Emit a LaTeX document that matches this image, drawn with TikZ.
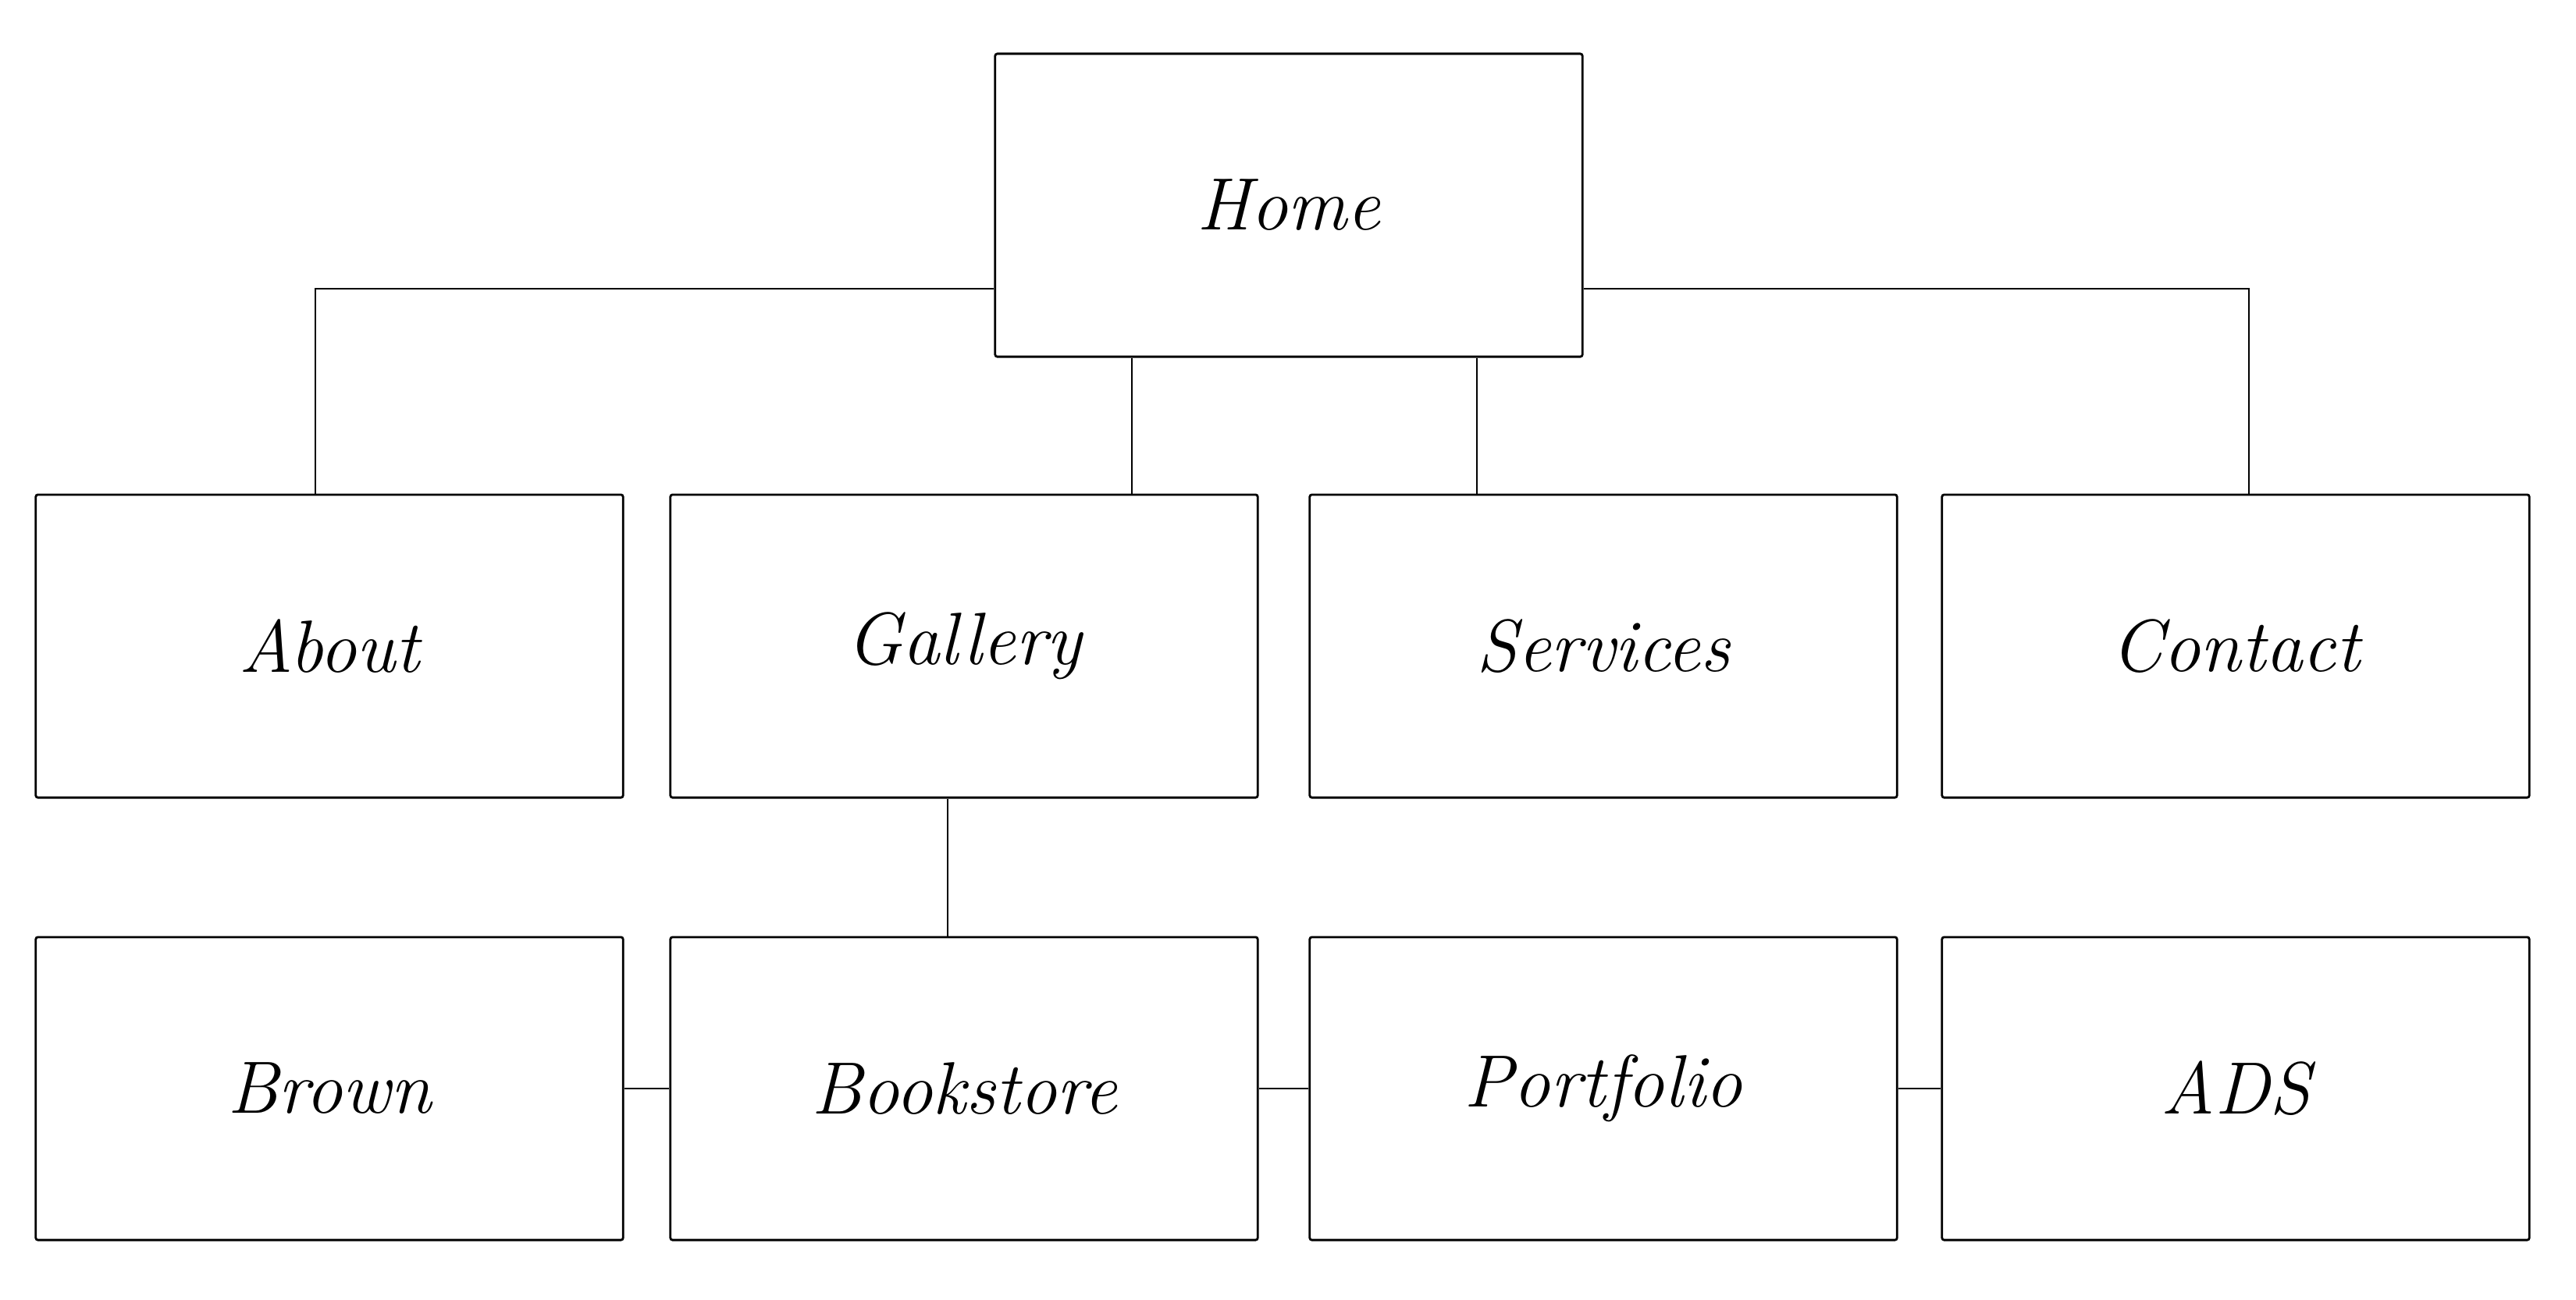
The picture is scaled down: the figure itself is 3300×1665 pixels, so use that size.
\documentclass[tikz,border=0pt]{standalone}

\begin{document}
\begin{tikzpicture}
      [x=0.01cm, y=-0.01cm,
       page/.style={draw, line width=0.8pt, rounded corners=0.8pt,
                    minimum width=7.52cm, minimum height=3.88cm, inner sep=0pt,
                    font=\fontsize{27}{32}\selectfont\itshape},
       link/.style={line width=0.45pt}]
      \useasboundingbox (0,0) rectangle (3300,1665);

      \node[page] (home) at (1651,263) {Home};

      \node[page] (about)    at (422,828)  {About};
      \node[page] (gallery)  at (1235,828) {Gallery};
      \node[page] (services) at (2054,828) {Services};
      \node[page] (contact)  at (2864,828) {Contact};

      \node[page] (brown)     at (422,1395)  {Brown};
      \node[page] (bookstore) at (1235,1395) {Bookstore};
      \node[page] (portfolio) at (2054,1395) {Portfolio};
      \node[page] (ads)       at (2864,1395) {ADS};

      % home to the first row
      \draw[link] ([yshift=-1.07cm]home.west) -| ([xshift=-0.18cm]about.north);
      \draw[link] ([yshift=-1.07cm]home.east) -| ([xshift=0.17cm]contact.north);
      \draw[link] ([xshift=-2.01cm]home.south) -- ([xshift=-2.01cm]home.south |- gallery.north);
      \draw[link] ([xshift=2.41cm]home.south) -- ([xshift=2.41cm]home.south |- services.north);

      \draw[link] ([xshift=-0.21cm]gallery.south) -- ([xshift=-0.21cm]bookstore.north);

      \foreach \from/\to in {brown/bookstore, bookstore/portfolio, portfolio/ads}
      \draw[link] (\from.east) -- (\to.west);
    \end{tikzpicture}
\end{document}
